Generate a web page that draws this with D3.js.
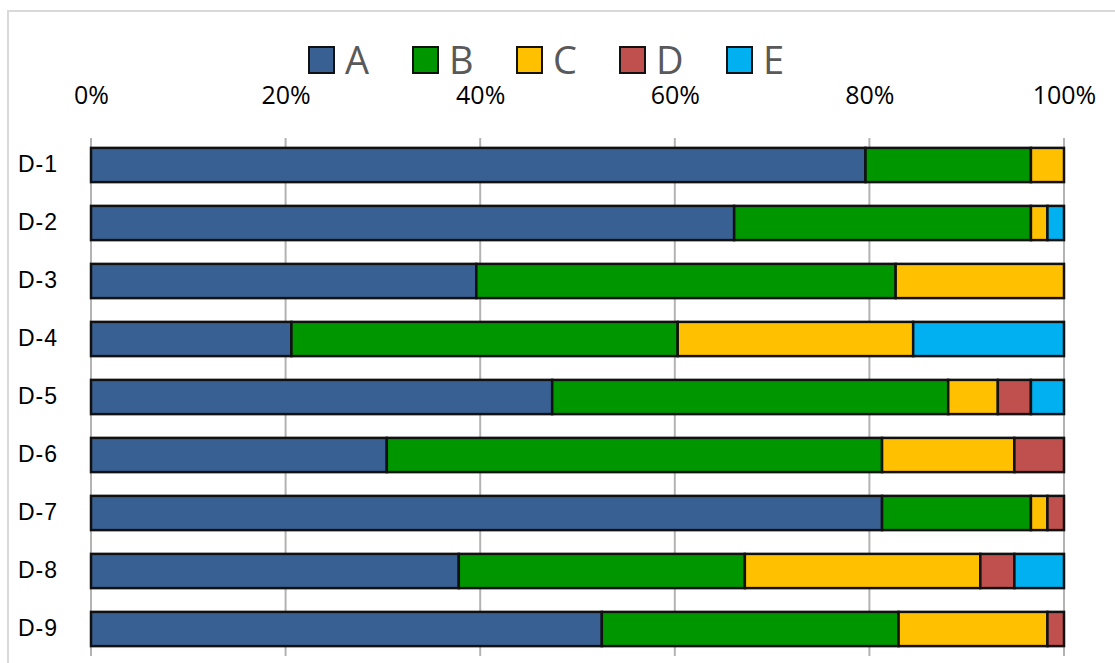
<!DOCTYPE html>
<html><head><meta charset="utf-8">
<script src="https://cdn.jsdelivr.net/npm/d3@7"></script>
<style>body{margin:0;background:#fff}svg{display:block}</style>
</head><body>
<svg id="c" width="1115" height="663"></svg>
<script>
const categories = ["D-1","D-2","D-3","D-4","D-5","D-6","D-7","D-8","D-9"];
const seriesNames = ["A","B","C","D","E"];
const seriesColors = ["#386093","#009600","#FFC000","#C0504D","#00B0F0"];
const valuesA = [79.6, 66.1, 39.6, 20.6, 47.4, 30.4, 81.3, 37.8, 52.5];
const valuesB = [17.0, 30.5, 43.1, 39.7, 40.7, 50.9, 15.3, 29.4, 30.5];
const valuesC = [3.4, 1.7, 17.3, 24.2, 5.1, 13.6, 1.7, 24.2, 15.3];
const valuesD = [0, 0, 0, 0, 3.4, 5.1, 1.7, 3.5, 1.7];
const valuesE = [0, 1.7, 0, 15.5, 3.4, 0, 0, 5.1, 0];
const tickValues = [0, 20, 40, 60, 80, 100];

const allSeries = [valuesA, valuesB, valuesC, valuesD, valuesE];
const rows = categories.map((c, i) => {
  const o = {cat: c};
  seriesNames.forEach((s, j) => o[s] = allSeries[j][i]);
  return o;
});
const stack = d3.stack().keys(seriesNames).offset(d3.stackOffsetExpand)(rows);

const svg = d3.select("#c");
// outer border
svg.append("rect").attr("x", 8).attr("y", 11).attr("width", 1120).attr("height", 670)
  .attr("fill", "none").attr("stroke", "#d9d9d9").attr("stroke-width", 2);

const x = d3.scaleLinear().domain([0, 1]).range([91, 1064]);
const y = d3.scaleBand().domain(categories).range([136, 658]).paddingInner(0.41).paddingOuter(0.205);

// gridlines
svg.append("g").selectAll("line").data(tickValues).join("line")
  .attr("x1", d => x(d/100)).attr("x2", d => x(d/100))
  .attr("y1", 138).attr("y2", 656)
  .attr("stroke", "#b3b3b3").attr("stroke-width", 2);

// top axis labels
const xAxis = d3.axisTop(x).tickValues(tickValues.map(d => d/100)).tickFormat(d3.format(".0%")).tickSize(0).tickPadding(0);
const gx = svg.append("g").attr("transform", "translate(0,104)").call(xAxis);
gx.select(".domain").remove();
gx.selectAll("text").attr("font-family", "Open Sans").attr("font-size", 25).attr("fill", "#000");

// bars
svg.append("g").selectAll("g").data(stack).join("g")
  .attr("fill", (d, i) => seriesColors[i])
  .selectAll("rect").data(d => d.filter(p => p[1] - p[0] > 0)).join("rect")
  .attr("x", d => x(d[0])).attr("width", d => x(d[1]) - x(d[0]))
  .attr("y", d => y(d.data.cat)).attr("height", y.bandwidth())
  .attr("stroke", "#111").attr("stroke-width", 2.5);

// category labels
const yAxis = d3.axisLeft(y).tickSize(0).tickPadding(0);
const gy = svg.append("g").attr("transform", "translate(18,0)").call(yAxis);
gy.select(".domain").remove();
gy.selectAll("text").attr("text-anchor", "start").attr("font-family", "Liberation Sans")
  .attr("font-size", 23).attr("fill", "#000").attr("letter-spacing", 1);

// legend
const lx = [309, 413, 517, 620, 727];
const lg = svg.append("g").selectAll("g").data(seriesNames).join("g")
  .attr("transform", (d, i) => `translate(${lx[i]},47)`);
lg.append("rect").attr("width", 25).attr("height", 26)
  .attr("fill", (d, i) => seriesColors[i]).attr("stroke", "#111").attr("stroke-width", 2);
lg.append("text").attr("x", 36).attr("y", 27).text(d => d)
  .attr("font-family", "Open Sans").attr("font-size", 38).attr("fill", "#595959");
</script>
</body></html>
